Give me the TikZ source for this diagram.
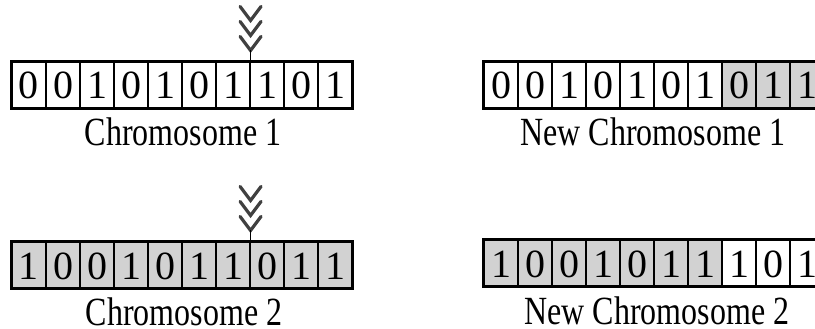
\documentclass[tikz,border=0pt]{standalone}
\usepackage{fontspec}
\setmainfont{Liberation Serif}
\newfontfamily\condfont[FakeStretch=0.8]{Liberation Serif}
\definecolor{cellgray}{HTML}{D2D2D2}
\tikzset{
  cell/.style={draw=black, line width=1.1pt, minimum width=34pt, minimum height=46pt,
    inner sep=0pt, text height=28pt, text depth=0pt,
    font=\fontsize{40}{40}\selectfont},
  graycell/.style={cell, fill=cellgray},
  frame/.style={draw=black, line width=2pt},
  lab/.style={anchor=base, inner sep=0pt, font=\condfont\fontsize{40}{40}\selectfont},
  chevron/.style={draw=black!75, line width=3.2pt, line cap=round, line join=miter},
  stem/.style={draw=black, line width=1.1pt}
}
\newcommand{\chevrons}[1]{%
  \foreach \k in {11,26,41}{
    \draw[chevron] ($(#1)+(-10.5,-\k-14)$) -- ($(#1)+(0,-\k)$) -- ($(#1)+(10.5,-\k-14)$);
  }
  \draw[stem] ($(#1)+(0,-11)$) -- (#1);
}
\usetikzlibrary{calc}
\begin{document}
\begin{tikzpicture}[x=1pt,y=-1pt]
\useasboundingbox (0,0) rectangle (815,329);
\clip (0,0) rectangle (815,329);

% Chromosome 1
\foreach \d [count=\i from 0] in {0,0,1,0,1,0,1,1,0,1}
  \node[cell] (a\i) at (29+34*\i,85) {\d};
\draw[frame] (a0.north west) rectangle (a9.south east);
\node[lab] (la) at (183,146) {Chromosome 1};
\coordinate (cuta) at (a6.north east);
\chevrons{cuta}

% Chromosome 2
\foreach \d [count=\i from 0] in {1,0,0,1,0,1,1,0,1,1}
  \node[graycell] (b\i) at (29+34*\i,265) {\d};
\draw[frame] (b0.north west) rectangle (b9.south east);
\node[lab] (lb) at (184,325) {Chromosome 2};
\coordinate (cutb) at (b6.north east);
\chevrons{cutb}

% New Chromosome 1
\foreach \d [count=\i from 0] in {0,0,1,0,1,0,1}
  \node[cell] (c\i) at (501+34*\i,85) {\d};
\foreach \d [count=\i from 7] in {0,1,1}
  \node[graycell] (c\i) at (501+34*\i,85) {\d};
\draw[frame] (c0.north west) rectangle (c9.south east);
\node[lab] (lc) at (653,146) {New Chromosome 1};

% New Chromosome 2
\foreach \d [count=\i from 0] in {1,0,0,1,0,1,1}
  \node[graycell] (d\i) at (501+34*\i,263) {\d};
\foreach \d [count=\i from 7] in {1,0,1}
  \node[cell] (d\i) at (501+34*\i,263) {\d};
\draw[frame] (d0.north west) rectangle (d9.south east);
\node[lab] (ld) at (657,324) {New Chromosome 2};
\end{tikzpicture}
\end{document}
